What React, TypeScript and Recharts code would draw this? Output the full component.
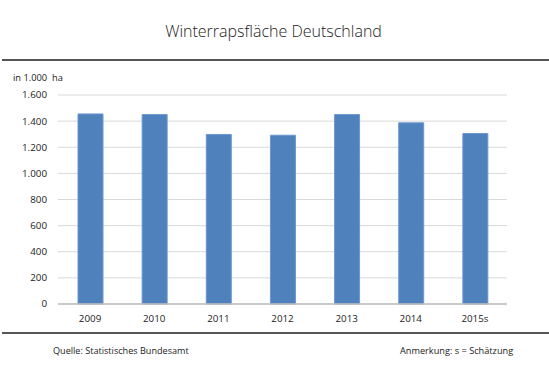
import React from "react";
import { BarChart, Bar, XAxis, YAxis, CartesianGrid } from "recharts";

const years = ["2009", "2010", "2011", "2012", "2013", "2014", "2015s"];
const areaValues = [1455, 1450, 1298, 1292, 1450, 1387, 1305];
const yTicks = [0, 200, 400, 600, 800, 1000, 1200, 1400, 1600];

const data = years.map((y, i) => ({ year: y, value: areaValues[i] }));

const FONT = "'Open Sans', 'Segoe UI', 'DejaVu Sans', sans-serif";

const fmt = (v: number) => {
  const s = String(v);
  return s.length > 3 ? s.slice(0, s.length - 3) + "." + s.slice(s.length - 3) : s;
};

export default function App() {
  return (
    <div style={{ position: "absolute", left: 0, top: 0, width: 549, height: 375, background: "#fff", fontFamily: FONT, color: "#222" }}>
      <div style={{ position: "absolute", left: 0, width: 547, top: 20, textAlign: "center", fontSize: 16, fontWeight: 300, color: "#222", lineHeight: "22px" }}>
        Winterrapsfläche Deutschland
      </div>
      <div style={{ position: "absolute", left: 2, width: 547, top: 59, height: 2, background: "#555" }} />
      <div style={{ position: "absolute", left: 13, top: 71, fontSize: 9.3, color: "#222", whiteSpace: "pre", lineHeight: "14px" }}>
        {"in 1.000  ha"}
      </div>
      <div style={{ position: "absolute", left: 0, top: 0 }}>
        <BarChart width={549} height={375} data={data} margin={{ top: 95, right: 42, bottom: 41, left: 0 }}>
          <CartesianGrid vertical={false} stroke="#d9d9d9" />
          <XAxis
            dataKey="year"
            tickLine={false}
            axisLine={{ stroke: "#bfbfbf", strokeWidth: 1.5 }}
            tick={{ fontSize: 9.8, fill: "#222", fontFamily: FONT }}
            tickMargin={5}
            interval={0}
          />
          <YAxis
            width={58}
            domain={[0, 1600]}
            ticks={yTicks}
            tickFormatter={fmt}
            tickLine={false}
            axisLine={false}
            tick={{ fontSize: 9.8, fill: "#222", fontFamily: FONT }}
            tickMargin={5}
            interval={0}
          />
          <Bar dataKey="value" fill="#4f81bd" stroke="#6b98cf" strokeWidth={1} barSize={25} isAnimationActive={false} />
        </BarChart>
      </div>
      <div style={{ position: "absolute", left: 2, width: 547, top: 332, height: 2, background: "#555" }} />
      <div style={{ position: "absolute", left: 53, top: 345, fontSize: 9.1, color: "#222", lineHeight: "12px" }}>
        Quelle: Statistisches Bundesamt
      </div>
      <div style={{ position: "absolute", left: 400, top: 345, fontSize: 9.2, color: "#222", lineHeight: "12px" }}>
        Anmerkung: s = Schätzung
      </div>
    </div>
  );
}
